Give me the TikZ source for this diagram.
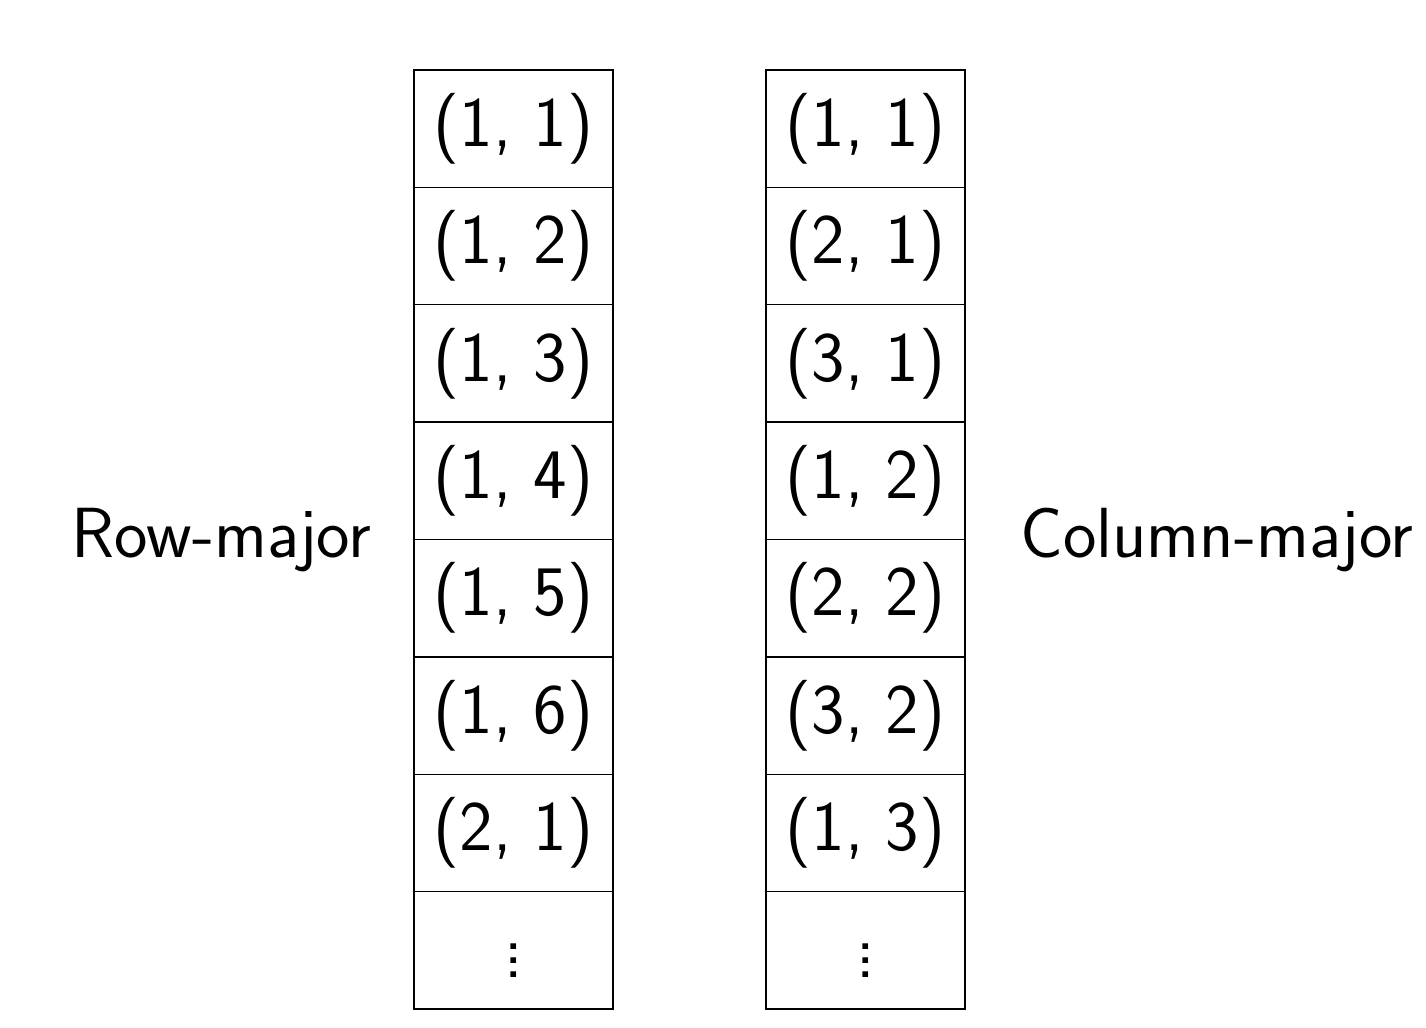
\documentclass[tikz,border=0pt]{standalone}
\usepackage{tikz}

\tikzset{
  cell/.style={draw, minimum width=1.99cm, minimum height=1.17375cm,
    inner sep=0pt, font=\sffamily\fontsize{20.2}{24}\selectfont},
  order/.style={font=\sffamily\fontsize{20.2}{24}\selectfont}
}

\begin{document}
\begin{tikzpicture}
    \useasboundingbox (0,0) rectangle (14.26,10.28);

    % row-major column
    \node[cell] (r1) at (5.135, 8.993) {(1, 1)};
    \node[cell] (r2) at (5.135, 7.819) {(1, 2)};
    \node[cell] (r3) at (5.135, 6.646) {(1, 3)};
    \node[cell] (r4) at (5.135, 5.472) {(1, 4)};
    \node[cell] (r5) at (5.135, 4.298) {(1, 5)};
    \node[cell] (r6) at (5.135, 3.124) {(1, 6)};
    \node[cell] (r7) at (5.135, 1.951) {(2, 1)};
    \node[cell] (r8) at (5.135, 0.777) {$\vdots$};

    % column-major column
    \node[cell] (c1) at (8.655, 8.993) {(1, 1)};
    \node[cell] (c2) at (8.655, 7.819) {(2, 1)};
    \node[cell] (c3) at (8.655, 6.646) {(3, 1)};
    \node[cell] (c4) at (8.655, 5.472) {(1, 2)};
    \node[cell] (c5) at (8.655, 4.298) {(2, 2)};
    \node[cell] (c6) at (8.655, 3.124) {(3, 2)};
    \node[cell] (c7) at (8.655, 1.951) {(1, 3)};
    \node[cell] (c8) at (8.655, 0.777) {$\vdots$};

    \node[order] (rowlabel) at (2.215, 4.88) {Row-major};
    \node[order] (collabel) at (12.17, 4.88) {Column-major};

  \end{tikzpicture}
\end{document}
